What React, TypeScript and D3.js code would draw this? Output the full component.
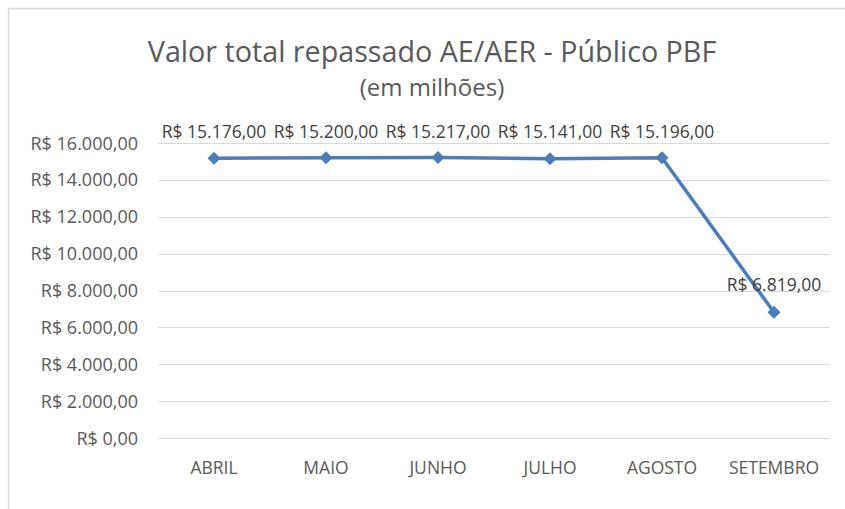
import React, { useEffect, useRef } from "react";
import * as d3 from "d3";

const months = ["ABRIL", "MAIO", "JUNHO", "JULHO", "AGOSTO", "SETEMBRO"];
const values = [15176, 15200, 15217, 15141, 15196, 6819];
const yTicks = [0, 2000, 4000, 6000, 8000, 10000, 12000, 14000, 16000];
const titleText = "Valor total repassado AE/AER - Público PBF";
const subtitleText = "(em milhões)";

const W = 845;
const H = 509;
const FONT = "'Open Sans', 'Liberation Sans', sans-serif";

const fmt = (v: number) => {
  const s = d3.format(",.2f")(v);
  return "R$ " + s.replace(/,/g, "#").replace(/\./g, ",").replace(/#/g, ".");
};

export default function App() {
  const ref = useRef<SVGSVGElement>(null);
  useEffect(() => {
    const svg = d3.select(ref.current);
    svg.selectAll("*").remove();
    const x = d3.scaleBand<string>().domain(months).range([158, 830]);
    const y = d3.scaleLinear().domain([0, 16000]).range([438, 143]);
    const cx = (m: string) => (x(m) as number) + x.bandwidth() / 2;

    svg.append("rect").attr("x", 0).attr("y", 0).attr("width", W).attr("height", H).attr("fill", "#fff");
    svg.append("path").attr("d", `M8.5,${H} L8.5,8.5 L${W},8.5`).attr("fill", "none").attr("stroke", "#d9d9d9").attr("stroke-width", 1.5);

    svg.append("text").attr("x", 432).attr("y", 62).attr("text-anchor", "middle")
      .attr("font-family", FONT).attr("font-size", 28.7).attr("fill", "#595959").text(titleText);
    svg.append("text").attr("x", 432).attr("y", 96).attr("text-anchor", "middle")
      .attr("font-family", FONT).attr("font-size", 24).attr("fill", "#595959").text(subtitleText);

    const g = svg.append("g");
    g.selectAll("line.grid").data(yTicks).enter().append("line")
      .attr("x1", 158).attr("x2", 830)
      .attr("y1", (d) => Math.round(y(d)) + 0.5).attr("y2", (d) => Math.round(y(d)) + 0.5)
      .attr("stroke", "#d9d9d9").attr("stroke-width", 1);

    g.selectAll("text.ytick").data(yTicks).enter().append("text")
      .attr("x", 138).attr("y", (d) => y(d) + 6.5).attr("text-anchor", "end")
      .attr("font-family", FONT).attr("font-size", 18).attr("fill", "#595959")
      .text((d) => fmt(d));

    g.selectAll("text.xtick").data(months).enter().append("text")
      .attr("x", (d) => cx(d)).attr("y", 474).attr("text-anchor", "middle")
      .attr("font-family", FONT).attr("font-size", 17.5).attr("fill", "#595959")
      .text((d) => d);

    const data = months.map((m, i) => ({ m, v: values[i] }));
    const line = d3.line<{ m: string; v: number }>().x((d) => cx(d.m)).y((d) => y(d.v));
    g.append("path").datum(data).attr("d", line).attr("fill", "none")
      .attr("stroke", "#4A7EBB").attr("stroke-width", 3.5).attr("stroke-linejoin", "round");

    const r = 6.5;
    g.selectAll("path.marker").data(data).enter().append("path")
      .attr("d", `M0,${-r} L${r},0 L0,${r} L${-r},0 Z`)
      .attr("transform", (d) => `translate(${cx(d.m)},${y(d.v)})`)
      .attr("fill", "#4A7EBB");

    g.selectAll("text.lbl").data(data).enter().append("text")
      .attr("x", (d) => cx(d.m))
      .attr("y", (d, i) => (i === 5 ? y(d.v) - 21 : 138))
      .attr("text-anchor", "middle")
      .attr("font-family", FONT).attr("font-size", 17.5).attr("fill", "#404040")
      .text((d) => fmt(d.v));
  }, []);
  return (
    <svg ref={ref} width={W} height={H} style={{ position: "absolute", left: 0, top: 0 }} />
  );
}
